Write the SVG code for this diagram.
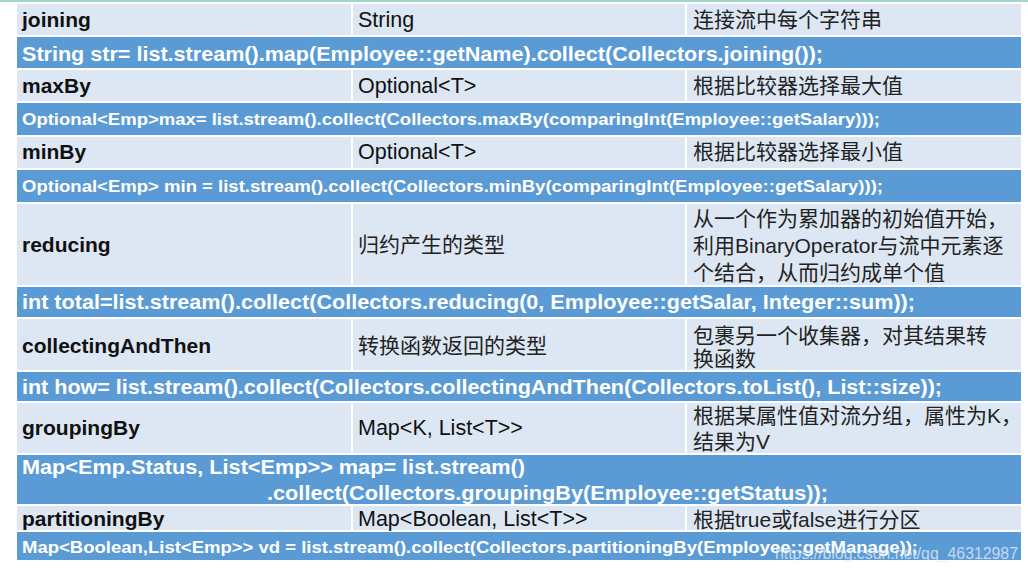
<svg xmlns="http://www.w3.org/2000/svg" width="1028" height="573" viewBox="0 0 1028 573">
<style>
.lt{fill:#dde7f3}
.bl{fill:#5b9bd5}
.nm{font-family:"Liberation Sans",Arial,sans-serif;font-weight:bold;font-size:21px;fill:#111}
.ty{font-family:"Liberation Sans",Arial,sans-serif;font-size:21.5px;fill:#111}
.cn{font-family:"Liberation Sans","Noto Sans CJK SC",sans-serif;font-size:21px;fill:#222}
.cd{font-family:"Liberation Sans",Arial,sans-serif;font-weight:bold;font-size:20px;fill:#fff}
.cs{font-family:"Liberation Sans",Arial,sans-serif;font-weight:bold;font-size:17px;fill:#fff}
.dv{stroke:#fff;stroke-width:2}
.wm{font-family:"Liberation Sans",Arial,sans-serif;font-size:17px;fill:#e8eef6;fill-opacity:0.75}
</style>
<rect x="0" y="0" width="1028" height="573" fill="#fff"/>
<rect x="0" y="0" width="1028" height="2" fill="#a3d6cb"/>

<g id="row-joining">
<rect class="lt" x="17" y="4" width="1004" height="31"/>
<line class="dv" x1="352" y1="4" x2="352" y2="35"/><line class="dv" x1="686" y1="4" x2="686" y2="35"/>
<text class="nm" x="22" y="27">joining</text>
<text class="ty" x="358" y="27">String</text>
<text class="cn" x="693" y="27">连接流中每个字符串</text>
</g>
<g id="code-joining">
<rect class="bl" x="17" y="37" width="1004" height="31"/>
<text class="cd" x="22" y="61" textLength="801" lengthAdjust="spacingAndGlyphs">String str= list.stream().map(Employee::getName).collect(Collectors.joining());</text>
</g>

<g id="row-maxBy">
<rect class="lt" x="17" y="70" width="1004" height="31"/>
<line class="dv" x1="352" y1="70" x2="352" y2="101"/><line class="dv" x1="686" y1="70" x2="686" y2="101"/>
<text class="nm" x="22" y="93">maxBy</text>
<text class="ty" x="358" y="93">Optional&lt;T&gt;</text>
<text class="cn" x="693" y="93">根据比较器选择最大值</text>
</g>
<g id="code-maxBy">
<rect class="bl" x="17" y="103" width="1004" height="32"/>
<text class="cs" x="22" y="125" textLength="858" lengthAdjust="spacingAndGlyphs">Optional&lt;Emp&gt;max= list.stream().collect(Collectors.maxBy(comparingInt(Employee::getSalary)));</text>
</g>

<g id="row-minBy">
<rect class="lt" x="17" y="137" width="1004" height="31"/>
<line class="dv" x1="352" y1="137" x2="352" y2="168"/><line class="dv" x1="686" y1="137" x2="686" y2="168"/>
<text class="nm" x="22" y="159">minBy</text>
<text class="ty" x="358" y="159">Optional&lt;T&gt;</text>
<text class="cn" x="693" y="159">根据比较器选择最小值</text>
</g>
<g id="code-minBy">
<rect class="bl" x="17" y="170" width="1004" height="32"/>
<text class="cs" x="22" y="192" textLength="861" lengthAdjust="spacingAndGlyphs">Optional&lt;Emp&gt; min = list.stream().collect(Collectors.minBy(comparingInt(Employee::getSalary)));</text>
</g>

<g id="row-reducing">
<rect class="lt" x="17" y="204" width="1004" height="81"/>
<line class="dv" x1="352" y1="204" x2="352" y2="285"/><line class="dv" x1="686" y1="204" x2="686" y2="285"/>
<text class="nm" x="22" y="252">reducing</text>
<text class="cn" x="358" y="252">归约产生的类型</text>
<text class="cn" x="693" y="226">从一个作为累加器的初始值开始，</text>
<text class="cn" x="693" y="253">利用BinaryOperator与流中元素逐</text>
<text class="cn" x="693" y="280">个结合，从而归约成单个值</text>
</g>
<g id="code-reducing">
<rect class="bl" x="17" y="287" width="1004" height="30"/>
<text class="cd" x="22" y="309" textLength="893" lengthAdjust="spacingAndGlyphs">int total=list.stream().collect(Collectors.reducing(0, Employee::getSalar, Integer::sum));</text>
</g>

<g id="row-collectingAndThen">
<rect class="lt" x="17" y="319" width="1004" height="51"/>
<line class="dv" x1="352" y1="319" x2="352" y2="370"/><line class="dv" x1="686" y1="319" x2="686" y2="370"/>
<text class="nm" x="22" y="353">collectingAndThen</text>
<text class="cn" x="358" y="353">转换函数返回的类型</text>
<text class="cn" x="693" y="343">包裹另一个收集器，对其结果转</text>
<text class="cn" x="693" y="366">换函数</text>
</g>
<g id="code-collectingAndThen">
<rect class="bl" x="17" y="372" width="1004" height="29"/>
<text class="cd" x="22" y="394" textLength="920" lengthAdjust="spacingAndGlyphs">int how= list.stream().collect(Collectors.collectingAndThen(Collectors.toList(), List::size));</text>
</g>

<g id="row-groupingBy">
<rect class="lt" x="17" y="403" width="1004" height="50"/>
<line class="dv" x1="352" y1="403" x2="352" y2="453"/><line class="dv" x1="686" y1="403" x2="686" y2="453"/>
<text class="nm" x="22" y="435">groupingBy</text>
<text class="ty" x="358" y="435">Map&lt;K, List&lt;T&gt;&gt;</text>
<text class="cn" x="693" y="423">根据某属性值对流分组，属性为K，</text>
<text class="cn" x="693" y="449">结果为V</text>
</g>
<g id="code-groupingBy">
<rect class="bl" x="17" y="455" width="1004" height="49"/>
<text class="cd" x="22" y="474" textLength="503" lengthAdjust="spacingAndGlyphs">Map&lt;Emp.Status, List&lt;Emp&gt;&gt; map= list.stream()</text>
<text class="cd" x="267" y="500" textLength="561" lengthAdjust="spacingAndGlyphs">.collect(Collectors.groupingBy(Employee::getStatus));</text>
</g>

<g id="row-partitioningBy">
<rect class="lt" x="17" y="506" width="1004" height="24"/>
<line class="dv" x1="352" y1="506" x2="352" y2="530"/><line class="dv" x1="686" y1="506" x2="686" y2="530"/>
<text class="nm" x="22" y="526">partitioningBy</text>
<text class="ty" x="358" y="526">Map&lt;Boolean, List&lt;T&gt;&gt;</text>
<text class="cn" x="693" y="527">根据true或false进行分区</text>
</g>
<g id="code-partitioningBy">
<rect class="bl" x="17" y="532" width="1004" height="28"/>
<text class="cs" x="22" y="553" textLength="896" lengthAdjust="spacingAndGlyphs">Map&lt;Boolean,List&lt;Emp&gt;&gt; vd = list.stream().collect(Collectors.partitioningBy(Employee::getManage));</text>
</g>

<text class="wm" x="775" y="559" textLength="243" lengthAdjust="spacingAndGlyphs">https://blog.csdn.net/qq_46312987</text>
</svg>
